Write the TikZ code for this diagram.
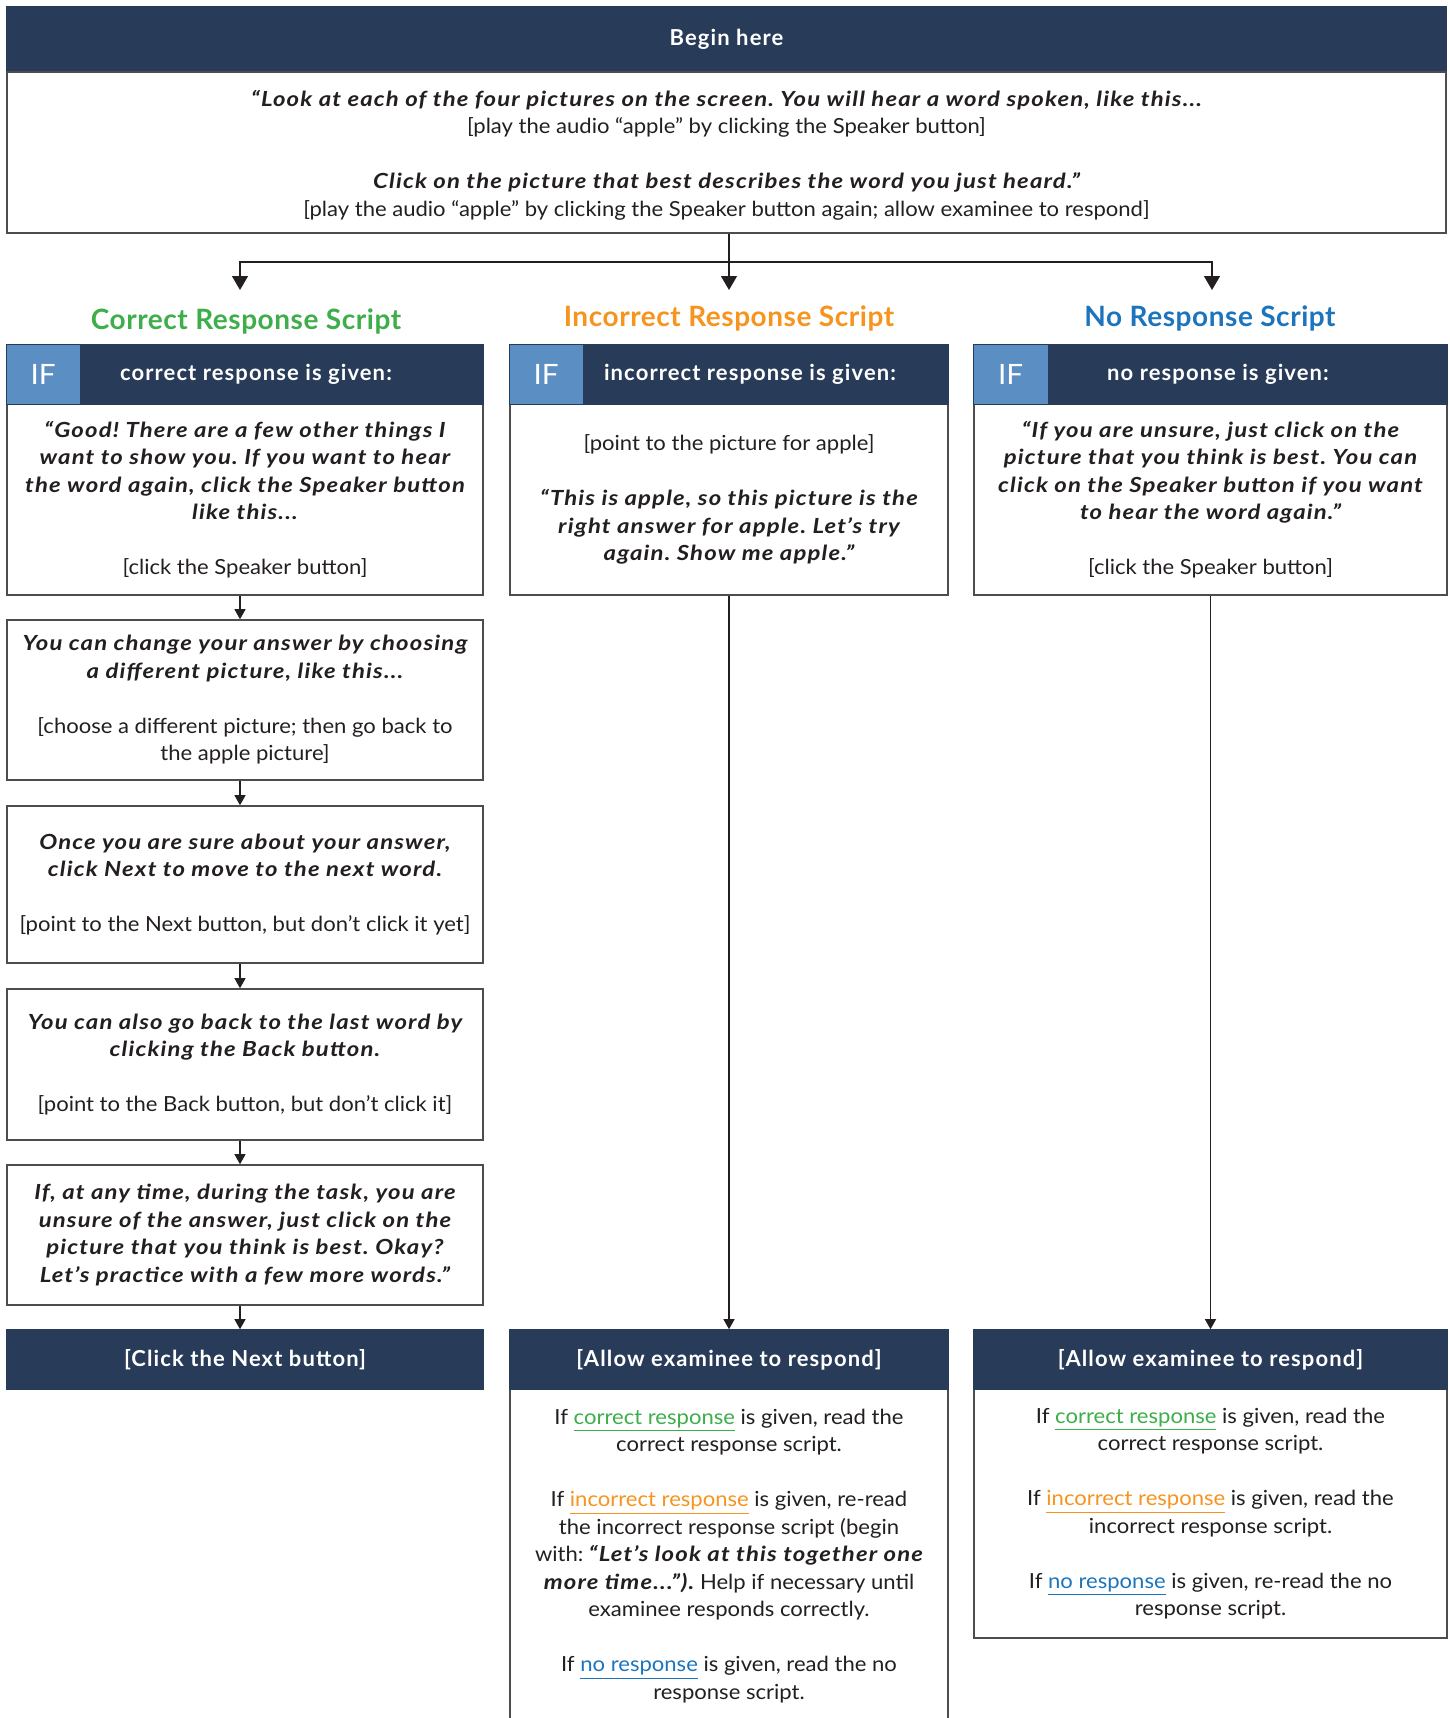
\documentclass[tikz,border=0pt]{standalone}
\usepackage{fontspec}
\setmainfont{Lato}[FakeStretch=1.06]
\newfontfamily\bifam{Lato}[FakeStretch=1.15, LetterSpace=5.5]
\newfontfamily\headfam{Lato}[LetterSpace=5]
\newfontfamily\titlefam{Lato}[LetterSpace=2]
\usetikzlibrary{arrows.meta}
\frenchspacing
\definecolor{navy}{HTML}{283B58}
\definecolor{ifblue}{HTML}{5B8FC4}
\definecolor{cgreen}{HTML}{3DAE4A}
\definecolor{corange}{HTML}{F7941E}
\definecolor{cblue}{HTML}{1C75BC}
\definecolor{textc}{HTML}{231F20}
\definecolor{bordc}{HTML}{4D4D4F}
\definecolor{linec}{HTML}{231F20}
\newcommand\myBody{\fontsize{10.4}{13.75}\selectfont}
\newcommand\myHead{\headfam\fontsize{11}{13.75}\selectfont\bfseries}
\newcommand\myTitle{\titlefam\fontsize{14}{16}\selectfont\bfseries}
\newcommand\myIF{\fontsize{14}{16}\selectfont}
\newcommand\bil[1]{{\bifam\bfseries\itshape #1}}
\newcommand\myUL[2]{{\color{#1}\underline{#2}}}
\tikzset{
  bodybox/.style={draw=bordc, line width=0.8pt, fill=white, inner sep=0pt, align=center, font=\myBody, text=textc},
  navybox/.style={draw=navy, fill=navy, line width=0.8pt, inner sep=0pt, align=center, text=white, font=\myHead},
  ifbox/.style={fill=ifblue, inner sep=0pt, text=white, font=\myIF},
  headtext/.style={inner sep=0pt, text=white, font=\myHead},
  titletext/.style={inner sep=0pt, font=\myTitle},
  arrbig/.style={draw=linec, line width=0.7pt, -{Triangle[width=8pt,length=7pt]}},
  arrsm/.style={draw=linec, line width=0.6pt, -{Triangle[width=5.5pt,length=5pt]}}
}
\begin{document}
\begin{tikzpicture}[x=0.5pt,y=-0.5pt]
\useasboundingbox[fill=white] (0,0) rectangle (1450,1718);

% ---------- top box ----------
\node[navybox, minimum width=719.5pt, minimum height=32.5pt] (th) at (726.5,39.5) {Begin here};
\node[bodybox, minimum width=719.5pt, minimum height=80.5pt] (tb) at (726.5,152.5) {};
\node[inner sep=0pt, align=center, font=\myBody, text=textc] (tbt) at (726.5,155)
 {\bil{“Look at each of the four pictures on the screen. You will hear a word spoken, like this...}\\
  {[}play the audio “apple” by clicking the Speaker button{]}\\[13.75pt]
  \bil{Click on the picture that best describes the word you just heard.”}\\
  {[}play the audio “apple” by clicking the Speaker button again; allow examinee to respond{]}};

% ---------- split connectors ----------
\coordinate (a1) at (240,290);
\coordinate (a2) at (729,290);
\coordinate (a3) at (1212,290);
\coordinate (jn) at (729,262);
\draw[arrbig] (tb.south -| a2) -- (a2);
\draw[arrbig] (jn) -| (a1);
\draw[arrbig] (jn) -| (a3);

% ---------- titles ----------
\node[titletext, text=cgreen] (t1) at (246,321) {Correct Response Script};
\node[titletext, text=corange] (t2) at (729,318) {Incorrect Response Script};
\node[titletext, text=cblue] (t3) at (1210,318) {No Response Script};

% ---------- left column ----------
\node[bodybox, minimum width=238pt, minimum height=95.5pt] (c1) at (245,499.5)
 {\bil{“Good! There are a few other things I}\\
  \bil{want to show you. If you want to hear}\\
  \bil{the word again, click the Speaker button}\\
  \bil{like this...}\\[13.75pt]
  {[}click the Speaker button{]}};
\node[navybox, minimum width=238pt, minimum height=29.5pt] (ch) at (245,374.5) {};
\node[ifbox, minimum width=36.5pt, minimum height=29.5pt, anchor=west] (ci) at (ch.west) {IF};
\node[headtext] (cht) at (256,374.5) {correct response is given:};

\node[bodybox, minimum width=238pt, minimum height=80pt] (c2) at (245,700)
 {\bil{You can change your answer by choosing}\\
  \bil{a different picture, like this...}\\[13.75pt]
  {[}choose a different picture; then go back to\\
  the apple picture{]}};
\node[bodybox, minimum width=238pt, minimum height=78.5pt] (c3) at (245,884.5)
 {\bil{Once you are sure about your answer,}\\
  \bil{click Next to move to the next word.}\\[13.75pt]
  {[}point to the Next button, but don’t click it yet{]}};
\node[bodybox, minimum width=238pt, minimum height=75.5pt] (c4) at (245,1064.5)
 {\bil{You can also go back to the last word by}\\
  \bil{clicking the Back button.}\\[13.75pt]
  {[}point to the Back button, but don’t click it{]}};
\node[bodybox, minimum width=238pt, minimum height=70pt] (c5) at (245,1235)
 {\bil{If, at any time, during the task, you are}\\
  \bil{unsure of the answer, just click on the}\\
  \bil{picture that you think is best. Okay?}\\
  \bil{Let’s practice with a few more words.”}};
\node[navybox, minimum width=238pt, minimum height=29.5pt] (c6) at (245,1359.5) {[Click the Next button]};

\draw[arrsm] (c1.south -| a1) -- (c2.north -| a1);
\draw[arrsm] (c2.south -| a1) -- (c3.north -| a1);
\draw[arrsm] (c3.south -| a1) -- (c4.north -| a1);
\draw[arrsm] (c4.south -| a1) -- (c5.north -| a1);
\draw[arrsm] (c5.south -| a1) -- (c6.north -| a1);

% ---------- middle column ----------
\node[bodybox, minimum width=219pt, minimum height=95.5pt] (m1) at (729,499.5)
 {{[}point to the picture for apple{]}\\[13.75pt]
  \bil{“This is apple, so this picture is the}\\
  \bil{right answer for apple. Let’s try}\\
  \bil{again. Show me apple.”}};
\node[navybox, minimum width=219pt, minimum height=29.5pt] (mh) at (729,374.5) {};
\node[ifbox, minimum width=36.5pt, minimum height=29.5pt, anchor=west] (mi) at (mh.west) {IF};
\node[headtext] (mht) at (750,374.5) {incorrect response is given:};

\node[bodybox, draw=none, minimum width=219pt, minimum height=164.5pt] (m3) at (729,1556)
 {If \myUL{cgreen}{correct response} is given, read the\\
  correct response script.\\[13.75pt]
  If \myUL{corange}{incorrect response} is given, re-read\\
  the incorrect response script (begin\\
  with: \bil{“Let’s look at this together one}\\
  \bil{more time...”).} Help if necessary until\\
  examinee responds correctly.\\[13.75pt]
  If \myUL{cblue}{no response} is given, read the no\\
  response script.};
\coordinate (mbl) at (510,1718);
\coordinate (mbr) at (948,1718);
\node[navybox, minimum width=219pt, minimum height=29.5pt] (m2) at (729,1359.5) {[Allow examinee to respond]};
\draw[draw=bordc, line width=0.8pt] (mbl) -- (mbl |- m2.south) (mbr) -- (mbr |- m2.south);
\draw[arrsm] (m1.south) -- (m2.north);

% ---------- right column ----------
\node[bodybox, minimum width=236.5pt, minimum height=95.5pt] (r1) at (1210.5,499.5)
 {\bil{“If you are unsure, just click on the}\\
  \bil{picture that you think is best. You can}\\
  \bil{click on the Speaker button if you want}\\
  \bil{to hear the word again.”}\\[13.75pt]
  {[}click the Speaker button{]}};
\node[navybox, minimum width=236.5pt, minimum height=29.5pt] (rh) at (1210.5,374.5) {};
\node[ifbox, minimum width=37pt, minimum height=29.5pt, anchor=west] (ri) at (rh.west) {IF};
\node[headtext] (rht) at (1218,374.5) {no response is given:};

\node[bodybox, minimum width=236.5pt, minimum height=124.5pt] (r3) at (1210.5,1513.5)
 {If \myUL{cgreen}{correct response} is given, read the\\
  correct response script.\\[13.75pt]
  If \myUL{corange}{incorrect response} is given, read the\\
  incorrect response script.\\[13.75pt]
  If \myUL{cblue}{no response} is given, re-read the no\\
  response script.};
\node[navybox, minimum width=236.5pt, minimum height=29.5pt] (r2) at (1210.5,1359.5) {[Allow examinee to respond]};
\draw[arrsm] (r1.south) -- (r2.north);
\end{tikzpicture}
\end{document}
